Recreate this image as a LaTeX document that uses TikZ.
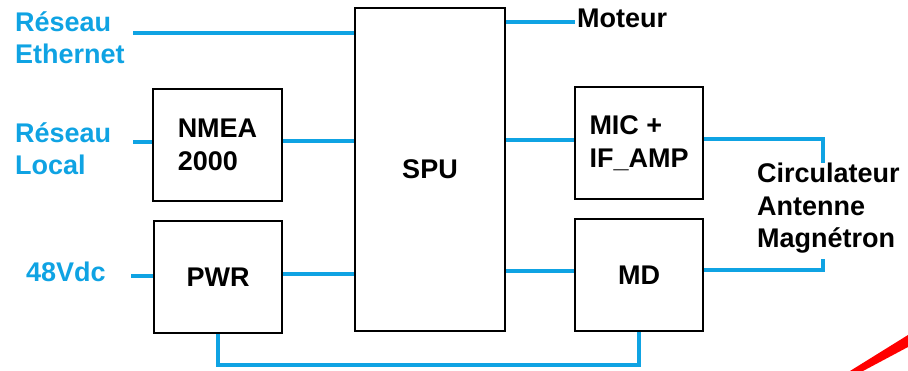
\documentclass[tikz,border=0pt]{standalone}
\usepackage{fontspec}
\setmainfont{Liberation Sans}
\usepackage{xcolor}
\usepackage{tikz}
\usetikzlibrary{positioning, calc}
\definecolor{wireblue}{HTML}{0FA3E3}
\definecolor{stripered}{HTML}{FF0000}

\begin{document}
\begin{tikzpicture}[x=1pt, y=-1pt, font=\fontsize{27}{32.5}\selectfont\bfseries,
  unit/.style={draw=black, line width=2pt, rectangle, minimum width=128pt, minimum height=112pt, inner sep=0pt},
  wire/.style={draw=wireblue, line width=3.5pt},
  sidelabel/.style={anchor=base west, inner sep=0pt, align=left}]
\useasboundingbox (0,0) rectangle (908,371);

% blocks
\node[unit, minimum width=150pt, minimum height=323pt] (spu) at (430,169.5) {SPU};
\node[unit, align=left, minimum width=129pt] (nmea) at (217.5,145) {NMEA\\2000};
\node[unit] (pwr) at (218,277.5) {PWR};
\node[unit, align=left] (mic) at (639,143) {MIC +\\IF\_AMP};
\node[unit] (md) at (639,275) {MD};

% texts (base = last line)
\node[sidelabel, text=wireblue] (eth) at (15,64) {Réseau\\Ethernet};
\node[sidelabel, text=wireblue] (loc) at (15,175) {Réseau\\Local};
\node[sidelabel, text=wireblue] (vdc) at (26,282) {48Vdc};
\node[sidelabel] (mot) at (577,28) {Moteur};
\node[sidelabel] (circ) at (757,248) {Circulateur\\Antenne\\Magnétron};

\coordinate (ethin) at (133,33);
\coordinate (locin) at (133,142);
\coordinate (vdcin) at (131,276);
\coordinate (motin) at (575,22);
\coordinate (circtop) at (823,163);
\coordinate (circbot) at (823,259);

% connections
\draw[wire] (ethin) -- (ethin -| spu.west);
\draw[wire] (locin) -- (locin -| nmea.west);
\draw[wire] (vdcin) -- (vdcin -| pwr.west);
\draw[wire] ([yshift=4pt]nmea.east) -- ([yshift=4pt]nmea.east -| spu.west);
\draw[wire] ([yshift=3.5pt]pwr.east) -- ([yshift=3.5pt]pwr.east -| spu.west);
\draw[wire] (motin -| spu.east) -- (motin);
\draw[wire] ([yshift=3pt]mic.west -| spu.east) -- ([yshift=3pt]mic.west);
\draw[wire] ([yshift=4pt]md.west -| spu.east) -- ([yshift=4pt]md.west);
\draw[wire] ([yshift=4pt]mic.east) -| (circtop);
\draw[wire] ([yshift=5pt]md.east) -| (circbot);
\draw[wire] (pwr.south) -- ++(0,30.5) -| (md.south);

\fill[stripered] (850,371) -- (863,371) -- (908,347) -- (908,335) -- cycle;
\end{tikzpicture}
\end{document}
